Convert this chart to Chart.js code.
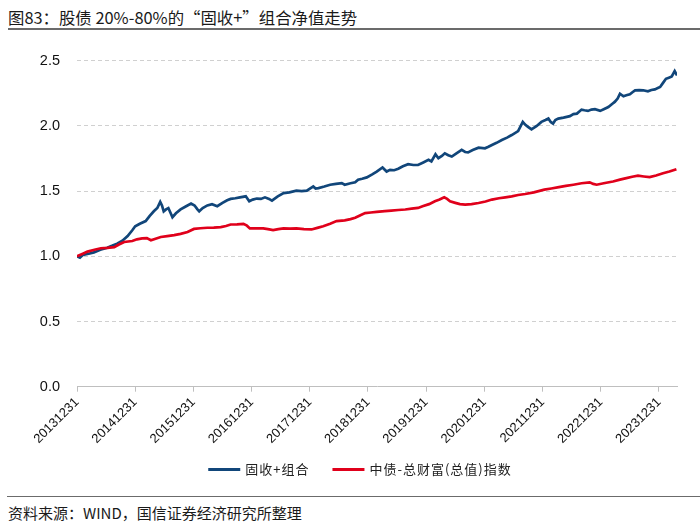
<!DOCTYPE html>
<html lang="zh">
<head>
<meta charset="UTF-8">
<title>固收+组合净值走势</title>
<script src="https://cdn.jsdelivr.net/npm/chart.js"></script>
<style>
  body { margin: 0; width: 700px; height: 526px; position: relative; background: #fff; overflow: hidden; }
  #title { position: absolute; left: 8px; top: 5px; font: 16.4px "Noto Sans CJK SC", sans-serif; color: #1a1a1a; white-space: nowrap; }
  #titleRule { position: absolute; left: 8px; top: 28px; width: 692px; height: 0; border-top: 2px solid #6b6b6b; }
  #chartBox { position: absolute; left: 0; top: 35px; }
  #footRule { position: absolute; left: 7px; top: 496px; width: 693px; height: 0; border-top: 1.5px solid #6b6b6b; }
  #source { position: absolute; left: 8px; top: 502px; font: 15px "Noto Sans CJK SC", sans-serif; color: #1a1a1a; white-space: nowrap; }
</style>
</head>
<body>
<div id="title">图83：股债 20%-80%的“固收+”组合净值走势</div>
<div id="titleRule"></div>
<div id="chartBox"><canvas id="navChart" width="700" height="455"></canvas></div>
<div id="footRule"></div>
<div id="source">资料来源：WIND，国信证券经济研究所整理</div>
<script>
// x = years after 20131231
const tickLabels = ['20131231', '20141231', '20151231', '20161231', '20171231', '20181231',
                    '20191231', '20201231', '20211231', '20221231', '20231231'];

const seriesNames = ['固收+组合', '中债-总财富(总值)指数'];

const fixedIncomePlus = [
  [0.00, 1.00], [0.05, 0.99], [0.10, 1.01], [0.20, 1.02], [0.29, 1.03], [0.40, 1.05], [0.52, 1.066],
  [0.60, 1.08], [0.69, 1.097], [0.78, 1.12], [0.87, 1.155], [0.95, 1.20], [1.00, 1.23], [1.08, 1.25],
  [1.18, 1.27], [1.25, 1.31], [1.32, 1.345], [1.38, 1.37], [1.43, 1.417], [1.46, 1.39], [1.49, 1.345],
  [1.53, 1.36], [1.57, 1.37], [1.61, 1.33], [1.64, 1.30], [1.70, 1.33], [1.78, 1.36], [1.86, 1.38],
  [1.96, 1.404], [2.02, 1.39], [2.07, 1.36], [2.10, 1.345], [2.16, 1.37], [2.24, 1.39], [2.32, 1.40],
  [2.41, 1.384], [2.50, 1.41], [2.58, 1.43], [2.64, 1.44], [2.72, 1.445], [2.80, 1.452], [2.90, 1.46],
  [2.96, 1.422], [3.02, 1.435], [3.09, 1.443], [3.16, 1.44], [3.23, 1.452], [3.30, 1.44], [3.35, 1.427],
  [3.45, 1.46], [3.55, 1.485], [3.65, 1.49], [3.77, 1.503], [3.86, 1.50], [3.95, 1.503], [4.06, 1.536],
  [4.10, 1.52], [4.15, 1.523], [4.25, 1.535], [4.35, 1.549], [4.45, 1.555], [4.55, 1.561], [4.60, 1.549],
  [4.70, 1.56], [4.78, 1.567], [4.83, 1.587], [4.90, 1.595], [4.98, 1.605], [5.08, 1.63], [5.15, 1.65],
  [5.25, 1.681], [5.32, 1.65], [5.38, 1.663], [5.45, 1.66], [5.52, 1.671], [5.60, 1.69], [5.69, 1.706],
  [5.78, 1.70], [5.86, 1.701], [5.95, 1.72], [6.04, 1.74], [6.09, 1.727], [6.16, 1.782], [6.21, 1.752],
  [6.27, 1.77], [6.32, 1.79], [6.38, 1.775], [6.44, 1.765], [6.52, 1.79], [6.61, 1.816], [6.67, 1.80],
  [6.72, 1.797], [6.80, 1.815], [6.90, 1.833], [7.01, 1.828], [7.07, 1.84], [7.13, 1.854], [7.21, 1.87],
  [7.30, 1.892], [7.39, 1.91], [7.47, 1.93], [7.58, 1.96], [7.66, 2.031], [7.70, 2.01], [7.75, 1.993],
  [7.81, 1.973], [7.90, 2.00], [7.98, 2.031], [8.05, 2.045], [8.10, 2.056], [8.14, 2.03], [8.18, 2.018],
  [8.22, 2.045], [8.27, 2.056], [8.36, 2.064], [8.47, 2.075], [8.53, 2.09], [8.59, 2.094], [8.67, 2.125],
  [8.72, 2.12], [8.78, 2.115], [8.84, 2.125], [8.90, 2.128], [8.99, 2.115], [9.06, 2.13], [9.13, 2.145],
  [9.20, 2.17], [9.24, 2.184], [9.29, 2.21], [9.33, 2.247], [9.39, 2.227], [9.44, 2.235], [9.50, 2.242],
  [9.55, 2.26], [9.59, 2.273], [9.66, 2.275], [9.73, 2.273], [9.81, 2.265], [9.87, 2.275], [9.93, 2.28],
  [9.98, 2.29], [10.02, 2.298], [10.07, 2.33], [10.12, 2.361], [10.17, 2.37], [10.22, 2.379],
  [10.27, 2.42], [10.31, 2.387]
];

const bondIndex = [
  [0.00, 1.00], [0.10, 1.02], [0.18, 1.036], [0.30, 1.05], [0.41, 1.062], [0.52, 1.065], [0.64, 1.07],
  [0.72, 1.09], [0.81, 1.11], [0.95, 1.117], [1.03, 1.13], [1.12, 1.138], [1.20, 1.14], [1.27, 1.123],
  [1.35, 1.135], [1.44, 1.148], [1.55, 1.155], [1.67, 1.163], [1.78, 1.172], [1.90, 1.186], [2.01, 1.21],
  [2.12, 1.215], [2.24, 1.219], [2.35, 1.22], [2.47, 1.224], [2.56, 1.232], [2.64, 1.244], [2.75, 1.245],
  [2.86, 1.249], [2.92, 1.235], [2.97, 1.214], [3.08, 1.215], [3.20, 1.214], [3.28, 1.208], [3.37, 1.201],
  [3.46, 1.208], [3.55, 1.214], [3.66, 1.213], [3.77, 1.214], [3.90, 1.208], [4.03, 1.206], [4.13, 1.218],
  [4.23, 1.231], [4.35, 1.25], [4.46, 1.27], [4.60, 1.275], [4.70, 1.285], [4.78, 1.295], [4.87, 1.315],
  [4.95, 1.331], [5.05, 1.336], [5.15, 1.341], [5.29, 1.346], [5.40, 1.35], [5.52, 1.355], [5.64, 1.359],
  [5.75, 1.365], [5.86, 1.371], [5.95, 1.385], [6.05, 1.40], [6.15, 1.422], [6.23, 1.435], [6.31, 1.452],
  [6.36, 1.44], [6.41, 1.422], [6.50, 1.41], [6.58, 1.40], [6.67, 1.397], [6.78, 1.40], [6.90, 1.409],
  [7.02, 1.42], [7.13, 1.435], [7.25, 1.445], [7.36, 1.452], [7.47, 1.46], [7.58, 1.47], [7.70, 1.478],
  [7.85, 1.49], [8.03, 1.511], [8.15, 1.52], [8.28, 1.53], [8.40, 1.54], [8.53, 1.549], [8.67, 1.56],
  [8.81, 1.567], [8.87, 1.555], [8.93, 1.549], [9.05, 1.56], [9.21, 1.574], [9.33, 1.588], [9.44, 1.599],
  [9.54, 1.61], [9.64, 1.618], [9.74, 1.612], [9.84, 1.607], [9.95, 1.62], [10.07, 1.637], [10.18, 1.65],
  [10.30, 1.668]
];

const BLUE = '#11467a';
const RED = '#e0001b';
const GRID = '#d0d0d0';
const AXIS = '#bfbfbf';

const toPoints = arr => arr.map(p => ({ x: p[0], y: p[1] }));

// legend under the axis: short line + label, drawn in dataset order
const lineLegend = {
  id: 'lineLegend',
  afterDraw(chart) {
    const ctx = chart.ctx;
    ctx.save();
    ctx.font = '13px "Noto Sans CJK SC", sans-serif';
    ctx.letterSpacing = '1px';
    ctx.textBaseline = 'middle';
    const sample = 32, gap = 5, between = 23, cy = 434.5;
    const items = chart.data.datasets.map(ds => ({ ds, w: ctx.measureText(ds.label).width }));
    const total = items.reduce((s, it) => s + sample + gap + it.w, 0) + between * (items.length - 1);
    let x = 360 - total / 2;
    items.forEach(it => {
      ctx.strokeStyle = it.ds.borderColor;
      ctx.lineWidth = 3;
      ctx.beginPath();
      ctx.moveTo(x, cy);
      ctx.lineTo(x + sample, cy);
      ctx.stroke();
      ctx.fillStyle = '#222';
      ctx.fillText(it.ds.label, x + sample + gap, cy);
      x += sample + gap + it.w + between;
    });
    ctx.restore();
  }
};

new Chart(document.getElementById('navChart'), {
  type: 'line',
  data: {
    datasets: [
      { label: seriesNames[0], data: toPoints(fixedIncomePlus), borderColor: BLUE, backgroundColor: BLUE,
        borderWidth: 2.7, pointRadius: 0, tension: 0, order: 1 },
      { label: seriesNames[1], data: toPoints(bondIndex), borderColor: RED, backgroundColor: RED,
        borderWidth: 2.7, pointRadius: 0, tension: 0, order: 0 }
    ]
  },
  plugins: [lineLegend],
  options: {
    responsive: false,
    animation: false,
    layout: { padding: { left: 0, right: 23, top: 23, bottom: 41.3 } },
    plugins: {
      tooltip: { enabled: false },
      legend: { display: false }
    },
    scales: {
      x: {
        type: 'linear', min: 0, max: 10.31,
        afterBuildTicks: s => { s.ticks = tickLabels.map((l, i) => ({ value: i })); },
        afterFit: s => { s.height = 62; },
        grid: { drawOnChartArea: false, drawTicks: true, tickLength: 5, color: AXIS },
        border: { display: true, color: AXIS, width: 1 },
        ticks: {
          autoSkip: false, maxRotation: 45, minRotation: 45, padding: 3, color: '#111',
          font: { family: '"Liberation Sans", Arial, sans-serif', size: 13 },
          callback: v => tickLabels[v]
        }
      },
      y: {
        min: 0, max: 2.5,
        afterFit: s => { s.width = 77; },
        grid: { drawTicks: false, color: GRID, lineWidth: 1 },
        border: { display: false, dash: [4, 3] },
        ticks: {
          stepSize: 0.5, padding: 17, color: '#111',
          font: { family: '"Liberation Sans", Arial, sans-serif', size: 14.5 },
          callback: v => v.toFixed(1)
        }
      }
    }
  }
});
</script>
</body>
</html>
